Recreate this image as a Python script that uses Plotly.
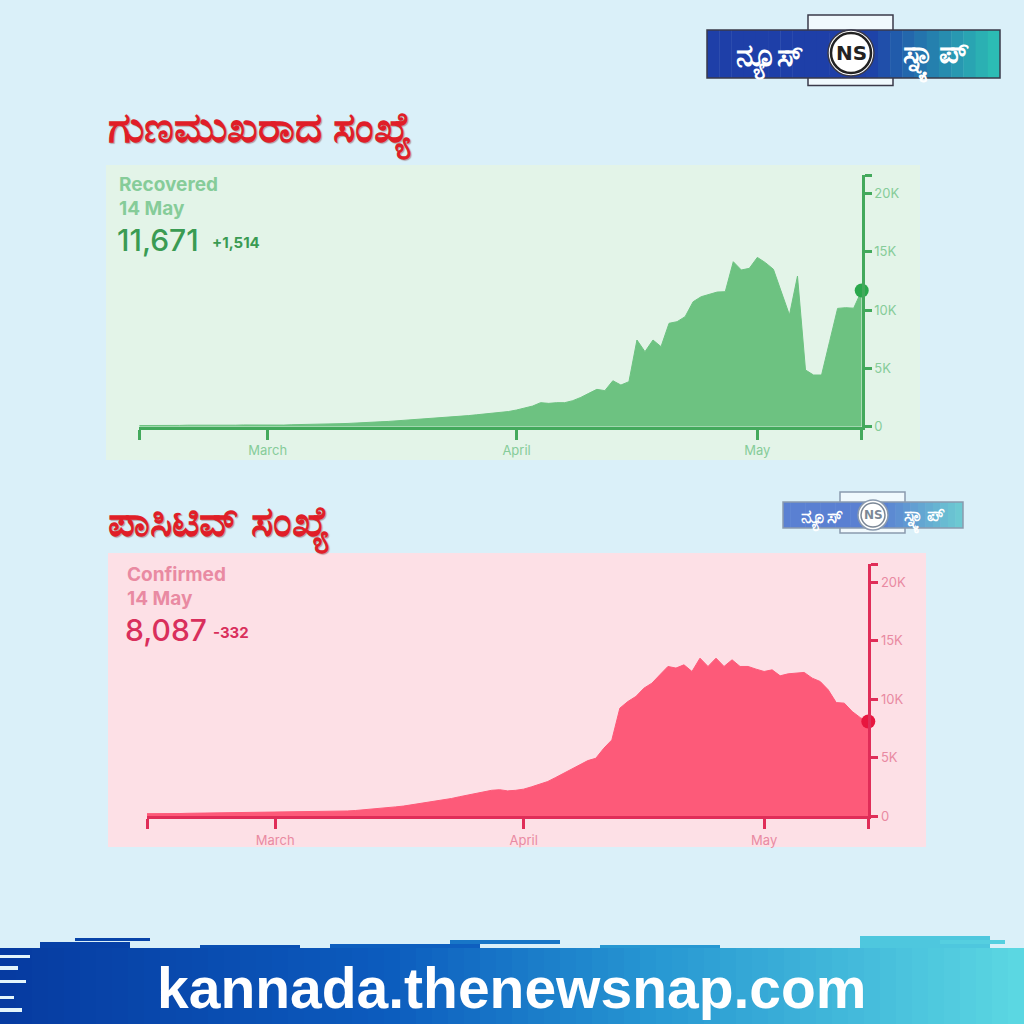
import plotly.graph_objects as go
import pandas as pd

# ---------------- data ----------------
start_date = "2021-02-13"
end_date = "2021-05-14"

recovered_feb = [100, 90, 110, 120, 100, 110, 130, 120, 110, 130, 140, 120, 130, 150, 140, 130]
recovered_mar = [150, 160, 140, 170, 180, 160, 190, 220, 240, 260, 280, 300, 330, 380, 420, 450,
                 500, 540, 560, 600, 650, 700, 760, 820, 880, 950, 1020, 1100, 1150, 1200, 1300]
recovered_apr = [1430, 1570, 1770, 2060, 2000, 2060, 2060, 2230, 2510, 2860, 3200, 3090, 3940, 3570,
                 3860, 7430, 6430, 7430, 6860, 8860, 9000, 9430, 10710, 11140, 11340, 11540, 11570,
                 14140, 13430, 13570]
recovered_may = [14510, 14060, 13490, 11570, 9570, 12910, 4860, 4430, 4430, 7290, 10140, 10200,
                 10157, 11671]

confirmed_feb = [200, 190, 210, 220, 210, 230, 240, 230, 250, 260, 250, 270, 280, 270, 290, 300]
confirmed_mar = [300, 310, 320, 330, 340, 350, 360, 370, 400, 430, 470, 520, 580, 640, 700, 780,
                 850, 950, 1060, 1150, 1260, 1380, 1500, 1650, 1800, 1950, 2080, 2200, 2250, 2150, 2200]
confirmed_apr = [2300, 2500, 2700, 2950, 3300, 3650, 4000, 4370, 4740, 4940, 5800, 6510, 9230, 9800,
                 10230, 10940, 11370, 12090, 12800, 12660, 12940, 12370, 13510, 12800, 13510, 12800,
                 13370, 12800, 12800, 12570]
confirmed_may = [12370, 12510, 12000, 12170, 12230, 12290, 11800, 11510, 10800, 9710, 9660, 8940,
                 8419, 8087]

x_tick_vals = ["2021-02-13", "2021-03-01", "2021-04-01", "2021-05-01", "2021-05-14"]
x_tick_text = ["", "March", "April", "May", ""]
y_max = 21570
y_tick_vals = [0, 5000, 10000, 15000, 20000, y_max]
y_tick_text = ["0", "5K", "10K", "15K", "20K", ""]

recovered = recovered_feb + recovered_mar + recovered_apr + recovered_may
confirmed = confirmed_feb + confirmed_mar + confirmed_apr + confirmed_may
dates = pd.date_range(start_date, end_date, freq="D")

W = H = 1024


def px(x):
    return x / W


def py(y):
    return 1 - y / H


GREEN_FILL = "#6dc281"
GREEN_AXIS = "#43a95c"
GREEN_LIGHT = "#86cc99"
GREEN_DARK = "#3a9b53"
GREEN_DOT = "#2aa84c"
GREEN_BG = "#e3f4e8"

PINK_FILL = "#fd5a79"
PINK_AXIS = "#e02d58"
PINK_LIGHT = "#e98aa2"
PINK_DARK = "#d92f5c"
PINK_DOT = "#e8163f"
PINK_BG = "#fde0e6"

fig = go.Figure()

fig.add_trace(go.Scatter(x=dates, y=recovered, mode="lines", fill="tozeroy",
                         line=dict(color=GREEN_FILL, width=1), fillcolor=GREEN_FILL,
                         xaxis="x", yaxis="y", hoverinfo="skip", showlegend=False))
fig.add_trace(go.Scatter(x=[dates[-1]], y=[recovered[-1]], mode="markers",
                         marker=dict(color=GREEN_DOT, size=14),
                         xaxis="x", yaxis="y", cliponaxis=False, showlegend=False))
fig.add_trace(go.Scatter(x=dates, y=confirmed, mode="lines", fill="tozeroy",
                         line=dict(color=PINK_FILL, width=1), fillcolor=PINK_FILL,
                         xaxis="x2", yaxis="y2", hoverinfo="skip", showlegend=False))
fig.add_trace(go.Scatter(x=[dates[-1]], y=[confirmed[-1]], mode="markers",
                         marker=dict(color=PINK_DOT, size=14),
                         xaxis="x2", yaxis="y2", cliponaxis=False, showlegend=False))

axis_font = dict(family="Inter, Lato, sans-serif", size=13)


def xaxis_cfg(domain, anchor, color, labcolor):
    return dict(domain=domain, anchor=anchor, type="date", automargin=False,
                range=[start_date, end_date], showgrid=False, zeroline=False,
                showline=True, linecolor=color, linewidth=3,
                ticks="outside", ticklen=10, tickwidth=2.5, tickcolor=color,
                tickmode="array", tickvals=x_tick_vals, ticktext=x_tick_text,
                tickfont=dict(axis_font, color=labcolor, size=13), fixedrange=True)


def yaxis_cfg(domain, anchor, color, labcolor):
    return dict(domain=domain, anchor=anchor, side="right", range=[0, y_max], automargin=False,
                showgrid=False, zeroline=False, showline=True, linecolor=color,
                linewidth=3, ticks="outside", ticklen=7, tickwidth=2.5, tickcolor=color,
                tickmode="array", tickvals=y_tick_vals, ticktext=y_tick_text,
                tickfont=dict(axis_font, color=labcolor), fixedrange=True)


shapes = []
annotations = []

shapes.append(dict(type="rect", xref="paper", yref="paper", x0=0, x1=1, y0=0, y1=1,
                   fillcolor="#daf0f9", line_width=0, layer="below"))

# panels
shapes.append(dict(type="rect", xref="paper", yref="paper", x0=px(106), x1=px(920),
                   y0=py(460), y1=py(165), fillcolor=GREEN_BG, line_width=0, layer="below"))
shapes.append(dict(type="rect", xref="paper", yref="paper", x0=px(108), x1=px(926),
                   y0=py(847), y1=py(553), fillcolor=PINK_BG, line_width=0, layer="below"))

# ---- footer brush band with gradient ----
stops = [(0, (6, 58, 160)), (390, (12, 92, 190)), (650, (38, 150, 210)), (1024, (92, 216, 226))]


def grad_color(x):
    for (x0, c0), (x1, c1) in zip(stops[:-1], stops[1:]):
        if x0 <= x <= x1:
            t = (x - x0) / (x1 - x0)
            return "rgb(%d,%d,%d)" % tuple(round(a + (b - a) * t) for a, b in zip(c0, c1))
    return "rgb(%d,%d,%d)" % stops[-1][1]


n_strips = 64
for i in range(n_strips):
    xa = i * W / n_strips
    xb = (i + 1) * W / n_strips + 0.5
    shapes.append(dict(type="rect", xref="paper", yref="paper", x0=px(xa), x1=px(min(xb, W)),
                       y0=0, y1=py(948), fillcolor=grad_color((xa + xb) / 2), line_width=0,
                       layer="below"))
streaks = [(40, 130, 942, 948), (75, 150, 938, 941), (330, 480, 944, 948), (450, 560, 940, 944),
           (600, 720, 945, 948), (860, 990, 936, 948), (940, 1005, 940, 944), (200, 300, 945, 948)]
for x0, x1, y0, y1 in streaks:
    shapes.append(dict(type="rect", xref="paper", yref="paper", x0=px(x0), x1=px(x1),
                       y0=py(y1), y1=py(y0), fillcolor=grad_color((x0 + x1) / 2),
                       line_width=0, layer="below"))
for y0, y1, x1 in [(955, 958, 30), (966, 970, 18), (980, 983, 26), (996, 999, 14), (1008, 1012, 22)]:
    shapes.append(dict(type="rect", xref="paper", yref="paper", x0=0, x1=px(x1),
                       y0=py(y1), y1=py(y0), fillcolor="#e4f5fb", line_width=0, layer="below"))

annotations.append(dict(text="kannada.thenewsnap.com", x=px(512), y=py(988), xref="paper",
                        yref="paper", showarrow=False, xanchor="center", yanchor="middle",
                        font=dict(family="Liberation Sans, Arial, sans-serif",
                                  size=57, color="white", weight="bold")))


# ---- logos ----
def logo(x0, y0, x1, y1, cx, cy, r, bump, scale, muted=False):
    left_c = "#1e3fa8" if not muted else "#5a80d2"
    right_c = "#2cbcb4" if not muted else "#6cc9d2"
    edge = "#3a3a4a" if not muted else "#8a9aae"
    bx0, bx1, by0 = bump
    shapes.append(dict(type="path", xref="paper", yref="paper",
                       path="M %f,%f L %f,%f L %f,%f L %f,%f Z" % (
                           px(bx0), py(y0 + 2), px(bx0), py(by0), px(bx1), py(by0), px(bx1), py(y0 + 2)),
                       fillcolor="rgba(255,255,255,0.6)", line=dict(color=edge, width=1.5)))
    shapes.append(dict(type="path", xref="paper", yref="paper",
                       path="M %f,%f L %f,%f L %f,%f L %f,%f Z" % (
                           px(bx0), py(y1 - 2), px(bx0), py(y1 + (y0 - by0) * 0.5),
                           px(bx1), py(y1 + (y0 - by0) * 0.5), px(bx1), py(y1 - 2)),
                       fillcolor="rgba(255,255,255,0.6)", line=dict(color=edge, width=1.5)))
    n = 24
    for i in range(n):
        xa = x0 + (x1 - x0) * i / n
        xb = x0 + (x1 - x0) * (i + 1) / n + 0.4
        t = max(0.0, (i / (n - 1) - 0.55) / 0.45)
        ca = tuple(int(left_c[k:k + 2], 16) for k in (1, 3, 5))
        cb = tuple(int(right_c[k:k + 2], 16) for k in (1, 3, 5))
        col = "rgb(%d,%d,%d)" % tuple(round(a + (b - a) * t) for a, b in zip(ca, cb))
        shapes.append(dict(type="rect", xref="paper", yref="paper", x0=px(xa), x1=px(min(xb, x1)),
                           y0=py(y1), y1=py(y0), fillcolor=col, line_width=0))
    shapes.append(dict(type="rect", xref="paper", yref="paper", x0=px(x0), x1=px(x1),
                       y0=py(y1), y1=py(y0), fillcolor="rgba(0,0,0,0)",
                       line=dict(color=edge, width=1.5)))
    shapes.append(dict(type="circle", xref="paper", yref="paper", x0=px(cx - r - 3), x1=px(cx + r + 3),
                       y0=py(cy + r + 3), y1=py(cy - r - 3), fillcolor="white", line=dict(color=edge, width=1.5)))
    shapes.append(dict(type="circle", xref="paper", yref="paper", x0=px(cx - r), x1=px(cx + r),
                       y0=py(cy + r), y1=py(cy - r), fillcolor="white",
                       line=dict(color="#222" if not muted else "#7b8796", width=2.5 * scale)))
    annotations.append(dict(text="<b>NS</b>", x=px(cx), y=py(cy), xref="paper", yref="paper",
                            showarrow=False, xanchor="center", yanchor="middle",
                            font=dict(family="DejaVu Sans", size=round(20 * scale),
                                      color="#222" if not muted else "#7b8796")))
    annotations.append(dict(text="<b>ನ್ಯೂಸ್</b>", x=px((x0 + cx - r) / 2), y=py((y0 + y1) / 2 + 2),
                            xref="paper", yref="paper", showarrow=False, xanchor="center",
                            yanchor="middle", font=dict(size=round(31 * scale), color="white")))
    annotations.append(dict(text="<b>ಸ್ನ್ಯಾಪ್</b>", x=px((cx + r + x1) / 2), y=py((y0 + y1) / 2 + 2),
                            xref="paper", yref="paper", showarrow=False, xanchor="center",
                            yanchor="middle", font=dict(size=round(31 * scale), color="white")))


logo(707, 30, 1000, 78, 851, 53, 20, (808, 893, 15), 1.0)
logo(783, 502, 963, 528, 873, 515, 12, (840, 905, 492), 0.6, muted=True)

# ---- titles ----
title_font = dict(family="Noto Sans, sans-serif", size=42, color="#e01e28", weight="bold",
                  shadow="1px 1px 1px rgba(90,0,0,0.35)")
annotations.append(dict(text="ಗುಣಮುಖರಾದ ಸಂಖ್ಯೆ", x=px(106), y=py(128), xref="paper", yref="paper",
                        showarrow=False, xanchor="left", yanchor="middle", font=title_font))
annotations.append(dict(text="ಪಾಸಿಟಿವ್ ಸಂಖ್ಯೆ", x=px(106), y=py(522), xref="paper", yref="paper",
                        showarrow=False, xanchor="left", yanchor="middle", font=title_font))

# ---- panel headers ----
hdr = "Inter, Lato, sans-serif"


def header(x, y_top, label, main, delta, light, dark, delta_x):
    annotations.append(dict(text="<b>%s</b>" % label, x=px(x), y=py(y_top), xref="paper", yref="paper",
                            showarrow=False, xanchor="left", yanchor="middle",
                            font=dict(family=hdr, size=19, color=light)))
    annotations.append(dict(text="<b>14 May</b>", x=px(x), y=py(y_top + 24), xref="paper", yref="paper",
                            showarrow=False, xanchor="left", yanchor="middle",
                            font=dict(family=hdr, size=19, color=light)))
    annotations.append(dict(text=main, x=px(x - 2), y=py(y_top + 56), xref="paper", yref="paper",
                            showarrow=False, xanchor="left", yanchor="middle",
                            font=dict(family=hdr, size=30, color=dark, weight=500)))
    annotations.append(dict(text="<b>%s</b>" % delta, x=px(delta_x), y=py(y_top + 58), xref="paper",
                            yref="paper", showarrow=False, xanchor="left", yanchor="middle",
                            font=dict(family=hdr, size=15, color=dark)))


header(117, 184, "Recovered", "{:,}".format(recovered[-1]), "+1,514", GREEN_LIGHT, GREEN_DARK, 210)
header(125, 574, "Confirmed", "{:,}".format(confirmed[-1]), "-332", PINK_LIGHT, PINK_DARK, 211)

fig.update_layout(
    width=W, height=H, margin=dict(l=0, r=0, t=0, b=0, pad=0, autoexpand=False),
    paper_bgcolor="#daf0f9", plot_bgcolor="rgba(0,0,0,0)",
    showlegend=False,
    xaxis=xaxis_cfg([px(139.3), px(861.7)], "y", GREEN_AXIS, GREEN_LIGHT),
    yaxis=yaxis_cfg([py(426.7), py(175)], "x", GREEN_AXIS, GREEN_LIGHT),
    xaxis2=xaxis_cfg([px(147), px(868.3)], "y2", PINK_AXIS, PINK_LIGHT),
    yaxis2=yaxis_cfg([py(816), py(564)], "x2", PINK_AXIS, PINK_LIGHT),
    shapes=shapes, annotations=annotations,
)

fig.write_html("out.html", config={"displayModeBar": False},
               post_script="document.body.style.margin='0';document.body.style.overflow='hidden';")
